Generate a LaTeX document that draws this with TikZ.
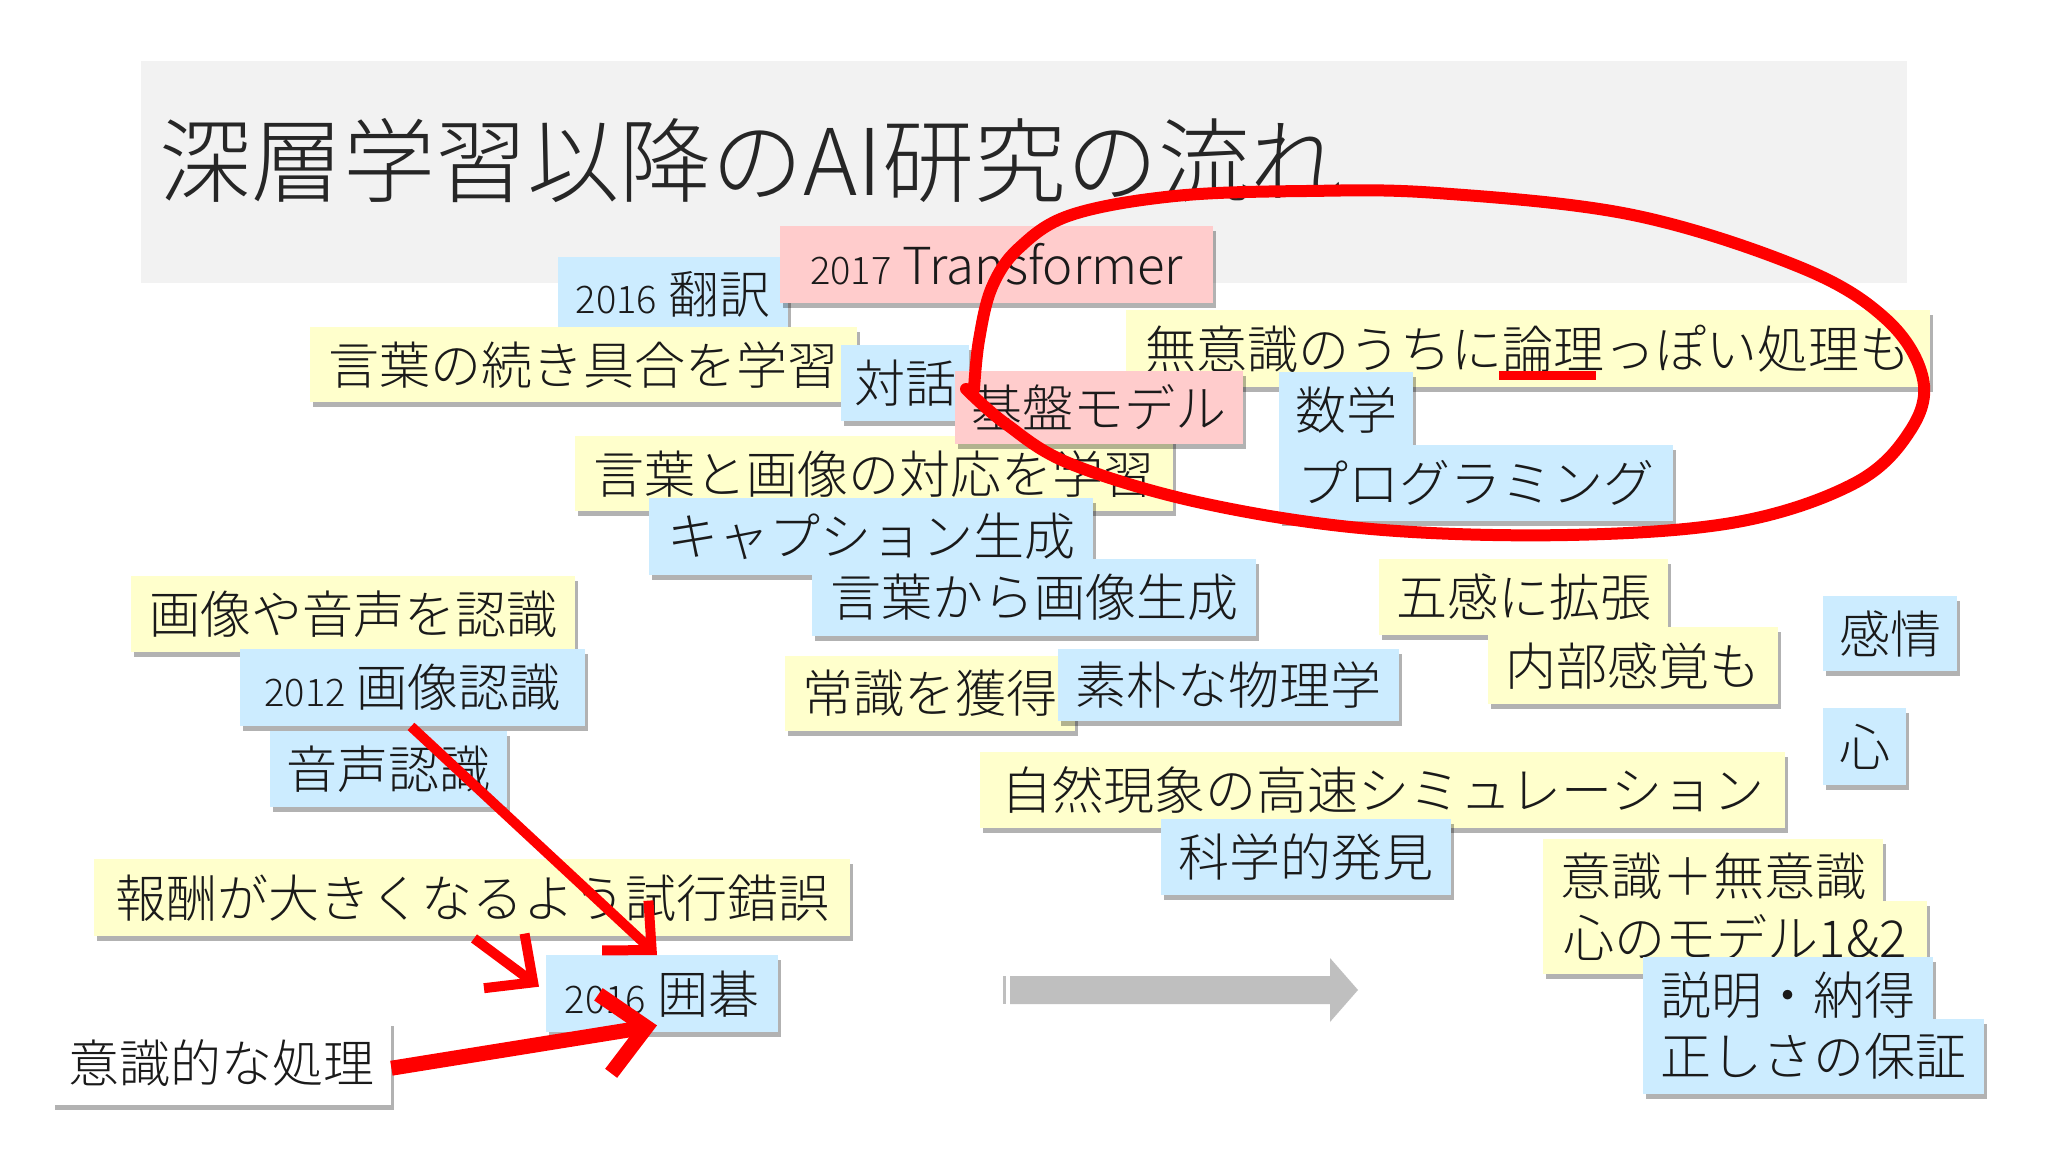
\documentclass[tikz,border=0pt]{standalone}
\usepackage{fontspec}
\setmainfont{Noto Sans CJK JP}[UprightFont=* Light]
\usetikzlibrary{shadows,arrows.meta}
\definecolor{ylw}{HTML}{FFFFCC}
\definecolor{blu}{HTML}{CCECFF}
\definecolor{pnk}{HTML}{FFCCCC}
\definecolor{ttlbg}{HTML}{F2F2F2}
\definecolor{arrgray}{HTML}{BFBFBF}
\definecolor{ink}{HTML}{1A1A1A}
\definecolor{ttlink}{HTML}{262626}
\tikzset{
 card/.style={anchor=north west, inner sep=0pt, text=ink, font=\fontsize{51}{56}\selectfont,
   drop shadow={shadow xshift=3pt, shadow yshift=-5pt, opacity=0.3, fill=black}},
 yb/.style={card, fill=ylw},
 bb/.style={card, fill=blu},
 pb/.style={card, fill=pnk},
 wb/.style={card, fill=white},
 redarrow/.style={draw=red, line width=10pt, -{Straight Barb[length=36pt, width=68pt]}},
 bigredarrow/.style={draw=red, line width=15pt, -{Straight Barb[length=42pt, width=80pt]}},
}
\newcommand\yr[1]{{\fontsize{38}{40}\selectfont #1}}
\begin{document}
\begin{tikzpicture}[x=1pt,y=-1pt]
\useasboundingbox (0,0) rectangle (2048,1152);
\fill[white] (0,0) rectangle (2048,1152);
% title
\node[anchor=north west, fill=ttlbg, minimum width=1766, minimum height=222, inner sep=0pt] (titlebg) at (141,61) {};
\node[anchor=west, inner sep=0pt, font=\fontsize{92}{100}\selectfont, text=ttlink] (title) at (159,161) {深層学習以降のAI研究の流れ};
% cards
\node[yb, minimum width=804, minimum height=77] (muishiki) at (1126,310) {無意識のうちに論理っぽい処理も};
\node[bb, minimum width=230, minimum height=75] (honyaku) at (558,257) {\yr{2016} 翻訳};
\node[pb, minimum width=433, minimum height=77] (tf) at (780,226) {\yr{2017} Transformer};
\node[yb, minimum width=547, minimum height=75] (tsuzuki) at (310,327) {言葉の続き具合を学習};
\node[bb, minimum width=128, minimum height=76] (taiwa) at (841,345) {対話};
\node[yb, minimum width=598, minimum height=75] (taio) at (575,436) {言葉と画像の対応を学習};
\node[pb, minimum width=288, minimum height=73] (kiban) at (955,371) {基盤モデル};
\node[bb, minimum width=134, minimum height=75] (sugaku) at (1279,372) {数学};
\node[bb, minimum width=394, minimum height=76] (prog) at (1279,445) {プログラミング};
\node[bb, minimum width=444, minimum height=77] (caption) at (649,498) {キャプション生成};
\node[bb, minimum width=444, minimum height=77] (gen) at (812,559) {言葉から画像生成};
\node[yb, minimum width=444, minimum height=76] (ninshiki) at (131,576) {画像や音声を認識};
\node[bb, minimum width=345, minimum height=77] (img) at (240,649) {\yr{2012} 画像認識};
\node[bb, minimum width=237, minimum height=76] (onsei) at (270,731) {音声認識};
\node[yb, minimum width=290, minimum height=75] (joshiki) at (785,656) {常識を獲得};
\node[bb, minimum width=341, minimum height=72] (soboku) at (1058,649) {素朴な物理学};
\node[yb, minimum width=289, minimum height=76] (gokan) at (1379,559) {五感に拡張};
\node[yb, minimum width=290, minimum height=77] (naibu) at (1488,627) {内部感覚も};
\node[bb, minimum width=134, minimum height=75] (kanjo) at (1823,596) {感情};
\node[bb, minimum width=83, minimum height=77] (kokoro) at (1823,708) {心};
\node[yb, minimum width=805, minimum height=76] (shizen) at (980,752) {自然現象の高速シミュレーション};
\node[bb, minimum width=290, minimum height=76] (kagaku) at (1161,819) {科学的発見};
\node[yb, minimum width=340, minimum height=75] (ishiki) at (1543,839) {意識＋無意識};
\node[yb, minimum width=384, minimum height=73] (model) at (1543,901) {心のモデル1\&2};
\node[bb, minimum width=290, minimum height=76] (setsumei) at (1643,957) {説明・納得};
\node[bb, minimum width=341, minimum height=75] (tadashisa) at (1643,1019) {正しさの保証};
\node[yb, minimum width=756, minimum height=77] (hoshu) at (94,859) {報酬が大きくなるよう試行錯誤};
\node[bb, minimum width=232, minimum height=77] (go) at (546,955) {\yr{2016} 囲碁};
\node[wb, minimum width=339, minimum height=84] (ci) at (52,1021) {意識的な処理};
% gray flow arrow
\fill[arrgray] (1003,976) rectangle (1006,1004);
\fill[arrgray] (1010,976) -- (1330,976) -- (1330,958) -- (1358,990) -- (1330,1022) -- (1330,1004) -- (1010,1004) -- cycle;
% red loop
\draw[red, line width=12pt, line cap=round] plot[smooth, tension=0.6] coordinates {
 (974,389) (979,340) (992,287) (1019,248) (1071,215) (1175,196) (1306,191) (1437,193)
 (1633,215) (1802,268) (1887,320) (1923,379) (1910,431) (1855,483) (1737,522) (1567,535)
 (1371,529) (1202,503) (1071,464) (1006,424) (966,389)};
% underline
\fill[red] (1499,371) rectangle (1596,380);
% red arrows
\draw[redarrow] ([xshift=171pt]img.south west) -- ([xshift=111pt]go.north west);
\draw[redarrow] ([xshift=380pt, yshift=-2pt]hoshu.south west) -- ([xshift=-7pt, yshift=7pt]go.west);
\draw[bigredarrow] ([yshift=-5pt]ci.east) -- ([xshift=111pt, yshift=7pt]go.south west);
\end{tikzpicture}
\end{document}
